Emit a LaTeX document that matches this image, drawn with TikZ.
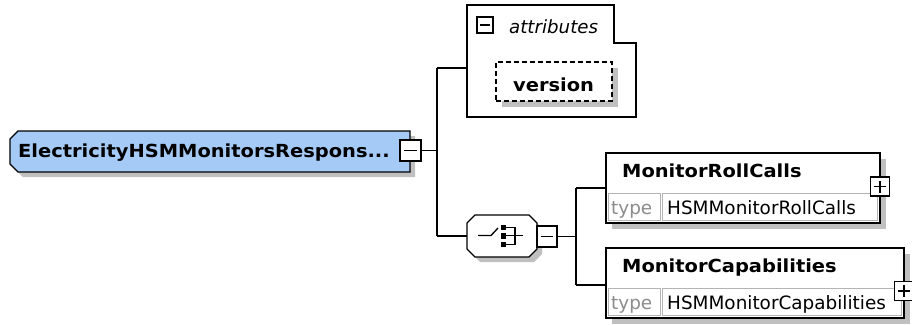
\documentclass[tikz,border=0pt]{standalone}
\usepackage{fontspec}
\usepackage{graphicx}
\setmainfont{DejaVu Sans}
\definecolor{elblue}{RGB}{166,202,246}
\definecolor{shgray}{RGB}{192,192,192}
\definecolor{cellgray}{RGB}{180,180,180}
\definecolor{typegray}{RGB}{140,140,140}
\tikzset{
  ln/.style={line width=1.3pt},
  boxel/.style={draw=black, line width=1.3pt, fill=white, inner sep=0pt, outer sep=0pt},
  anch/.style={inner sep=0pt, outer sep=0pt},
  shd/.style={fill=shgray, draw=none},
  txtb/.style={anchor=base west, inner sep=0pt, font=\fontsize{18}{20}\selectfont\bfseries},
  txtr/.style={anchor=base west, inner sep=0pt, font=\fontsize{18.4}{20}\selectfont},
  pm/.style={draw=black, line width=1.3pt, fill=white, minimum size=19pt, inner sep=0pt, outer sep=0pt},
  cell/.style={draw=cellgray, line width=1pt},
}
\newcommand{\bw}[1]{\scalebox{1.08}[1]{#1}}
\begin{document}
\begin{tikzpicture}[x=1pt,y=-1pt]
\useasboundingbox (0,0) rectangle (912,324);
\fill[white] (0,0) rectangle (912,324);

% ---- main element ----
\fill[shd] (23,136) -- (415,136) -- (415,177) -- (23,177) -- (15,169) -- (15,144) -- cycle;
\draw[ln, fill=elblue] (18,131) -- (410,131) -- (410,172) -- (18,172) -- (10,164) -- (10,139) -- cycle;
\node[anch, minimum width=400pt, minimum height=41pt] (main) at (210,151.5) {};
\node[txtb] (maintext) at (18,157) {\bw{ElectricityHSMMonitorsRespons...}};
\node[pm, minimum size=21pt] (mminus) at (410.5,150.5) {};
\draw[ln] ([xshift=-6.5pt]mminus.center) -- ([xshift=6.5pt]mminus.center);

% ---- attributes ----
\draw[ln, fill=white] (467,5) -- (614,5) -- (614,43) -- (636,43) -- (636,117) -- (467,117) -- cycle;
\node[anch, minimum width=169pt, minimum height=112pt] (attr) at (551.5,61) {};
\node[pm, minimum size=16pt] (aminus) at (485,25) {};
\draw[ln] ([xshift=-5pt]aminus.center) -- ([xshift=5pt]aminus.center);
\node[txtr, font=\fontsize{18.2}{20}\selectfont\itshape] (attrtext) at (509,33) {attributes};
\fill[shd] (502,68) rectangle (618,107);
\node[draw=black, line width=1.3pt, dash pattern=on 5pt off 3pt, fill=white, minimum width=116pt, minimum height=39pt, inner sep=0pt] (version) at (554,81.5) {};
\node[txtb] (versiontext) at (513,91) {\bw{version}};

% ---- sequence compositor ----
\fill[shd] (480,220) -- (534,220) -- (542,228) -- (542,254) -- (534,262) -- (480,262) -- (472,254) -- (472,228) -- cycle;
\draw[ln, fill=white] (475,215) -- (529,215) -- (537,223) -- (537,249) -- (529,257) -- (475,257) -- (467,249) -- (467,223) -- cycle;
\node[anch, minimum width=70pt, minimum height=42pt] (seq) at (502,236) {};
\draw[ln] (478,235.5) -- (491,235.5) -- (498,228);
\fill (500.5,224.5) rectangle (506,230);
\fill (500.5,233) rectangle (506,238.5);
\fill (500.5,241.5) rectangle (506,247);
\draw[ln] (506,227.5) -- (515,227.5) -- (515,244.5) -- (506,244.5);
\draw[ln] (506,235.5) -- (523,235.5);
\node[pm, minimum width=20pt, minimum height=21pt] (sminus) at (547,236.5) {};
\draw[ln] ([xshift=-6pt]sminus.center) -- ([xshift=6pt]sminus.center);

% ---- MonitorRollCalls ----
\fill[shd] (612,159) rectangle (886,229);
\node[boxel, minimum width=274pt, minimum height=70pt] (mrc) at (743,188) {};
\draw[cell] (608,193) rectangle (660,220);
\draw[cell] (662,193) rectangle (877,220);
\node[txtb] (mrcname) at (622,177) {\bw{MonitorRollCalls}};
\node[txtr, text=typegray] (mrctype) at (611,214) {type};
\node[txtr] (mrctypename) at (667,214) {HSMMonitorRollCalls};
\node[pm] (mrcplus) at (880,186.5) {};
\draw[ln] ([xshift=-6pt]mrcplus.center) -- ([xshift=6pt]mrcplus.center);
\draw[ln] ([yshift=-6pt]mrcplus.center) -- ([yshift=6pt]mrcplus.center);

% ---- MonitorCapabilities ----
\fill[shd] (612,254) rectangle (910,324);
\node[boxel, minimum width=298pt, minimum height=70pt] (mcap) at (755,283) {};
\draw[cell] (608,288) rectangle (660,315);
\draw[cell] (662,288) rectangle (901,315);
\node[txtb] (mcapname) at (622,272) {\bw{MonitorCapabilities}};
\node[txtr, text=typegray] (mcaptype) at (611,309) {type};
\node[txtr] (mcaptypename) at (667,309) {HSMMonitorCapabilities};
\node[pm] (mcapplus) at (904,291) {};
\draw[ln] ([xshift=-6pt]mcapplus.center) -- ([xshift=6pt]mcapplus.center);
\draw[ln] ([yshift=-6pt]mcapplus.center) -- ([yshift=6pt]mcapplus.center);

% ---- connectors ----
\coordinate (j1) at (437,150.5);
\coordinate (ja) at (437,68);
\coordinate (jb) at (437,236);
\coordinate (j2) at (576,236.5);
\coordinate (jc) at (576,188);
\coordinate (jd) at (576,285);
\draw[ln] (mminus.east) -- (j1);
\draw[ln] (ja) -- (jb);
\draw[ln] (ja) -- (ja -| attr.west);
\draw[ln] (jb) -- (jb -| seq.west);
\draw[ln] (sminus.east) -- (j2);
\draw[ln] (jc) -- (jd);
\draw[ln] (jc) -- (jc -| mrc.west);
\draw[ln] (jd) -- (jd -| mcap.west);
\end{tikzpicture}
\end{document}
